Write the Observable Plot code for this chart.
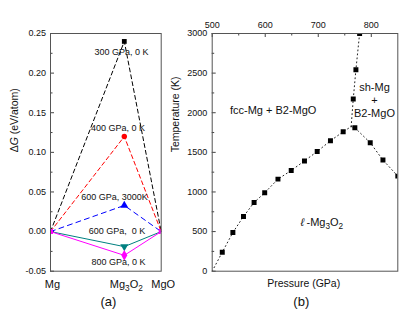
<!DOCTYPE html>
<html><head><meta charset="utf-8">
<script src="https://cdn.jsdelivr.net/npm/d3@7"></script>
<script src="https://cdn.jsdelivr.net/npm/@observablehq/plot@0.6"></script>
<style>
html,body{margin:0;padding:0;background:#fff;}
#wrap{position:relative;width:415px;height:319px;overflow:hidden;}
#wrap svg{position:absolute;top:0;}
</style></head><body><div id="wrap"></div>
<script>
// ---------------- panel (a) data ----------------
const compositions = ["Mg", "Mg_3O_2", "MgO"];
const compX = [0, 2/3, 1];
const seriesA = ["300 GPa, 0 K", "400 GPa, 0 K", "600 GPa, 3000K", "600 GPa,  0 K", "800 GPa, 0 K"];
const dG_300 = [0, 0.240, 0];
const dG_400 = [0, 0.120, 0];
const dG_600hot = [0, 0.033, 0];
const dG_600 = [0, -0.019, 0];
const dG_800 = [0, -0.030, 0];
const dGTicks = [-0.05, 0, 0.05, 0.10, 0.15, 0.20, 0.25];
const dGMinor = [-0.025, 0.025, 0.075, 0.125, 0.175, 0.225];

// ---------------- panel (b) data ----------------
const pressure    = [519, 539, 559, 579, 599, 624, 649, 674, 698, 723, 747, 769, 766, 771, 778, 798, 822, 850];
const temperature = [240, 489, 690, 867, 990, 1162, 1271, 1392, 1511, 1646, 1760, 1811, 2172, 2543, 3000, 1621, 1403, 1200];
const boundLeftP  = [500, 519, 539, 559, 579, 599, 624, 649, 674, 698, 723, 747, 762];
const boundLeftT  = [0, 240, 489, 690, 867, 990, 1162, 1271, 1392, 1511, 1646, 1760, 1825];
const boundUpP    = [762, 766, 771, 778];
const boundUpT    = [1825, 2172, 2543, 3000];
const boundRightP = [762, 769, 798, 822, 850];
const boundRightT = [1825, 1811, 1621, 1403, 1200];
const pTicks = [500, 600, 700, 800];
const pMinor = [550, 650, 750];
const tTicks = [0, 500, 1000, 1500, 2000, 2500, 3000];
const tMinor = [250, 750, 1250, 1750, 2250, 2750];

const FONT = "'Liberation Sans', Arial, sans-serif";
const INK = "#111";
const AX = "#444";

// ---- rich text: _x -> subscript, *..* -> italic
function richify(svg) {
  const NS = "http://www.w3.org/2000/svg";
  svg.querySelectorAll("text").forEach(t => {
    if (t.querySelector("tspan")) return;
    const s = t.textContent;
    if (!/[_*]/.test(s)) return;
    const fs = parseFloat(getComputedStyle(t).fontSize) || 10;
    const shift = 0.3 * fs;
    t.textContent = "";
    const re = /_(.)|\*([^*]+)\*|([^_*]+)/g;
    let m, lowered = false;
    while ((m = re.exec(s))) {
      const ts = document.createElementNS(NS, "tspan");
      if (m[1] !== undefined) {
        ts.textContent = m[1];
        ts.setAttribute("font-size", (0.75 * fs) + "px");
        if (!lowered) { ts.setAttribute("dy", shift); lowered = true; }
      } else {
        ts.textContent = m[2] !== undefined ? m[2] : m[3];
        if (m[2] !== undefined) ts.setAttribute("font-style", "italic");
        if (lowered) { ts.setAttribute("dy", -shift); lowered = false; }
      }
      t.appendChild(ts);
    }
  });
}

// ---------------- panel (a) ----------------
const valuesA = [dG_300, dG_400, dG_600hot, dG_600, dG_800];
const styleA = [
  {stroke: "#000000", dash: "4,3", symbol: "square", r: 2.7, rotate: 0},
  {stroke: "#ff0000", dash: "4,3", symbol: "circle", r: 2.7, rotate: 0},
  {stroke: "#0000ff", dash: "5,4", symbol: "triangle", r: 3, rotate: 0},
  {stroke: "#008080", dash: null, symbol: "triangle", r: 3, rotate: 180},
  {stroke: "#ff00ff", dash: null, symbol: "diamond", r: 3.2, rotate: 0}
];
const tableA = [];
seriesA.forEach((s, i) => compX.forEach((x, j) => tableA.push({series: s, k: i, x, y: valuesA[i][j]})));
const annA = [
  {t: seriesA[0], x: 0.641, y: 0.226},
  {t: seriesA[1], x: 0.610, y: 0.131},
  {t: seriesA[2], x: 0.578, y: 0.043},
  {t: seriesA[3], x: 0.601, y: 0.001},
  {t: seriesA[4], x: 0.614, y: -0.038}
];
const WA = 175, HA = 319, mlA = 50, mrA = 14.3, mtA = 33, mbA = 48.3;
const fwA = WA - mlA - mrA;

const marksA = [
  Plot.axisY(dGTicks, {tickSize: 0, tickPadding: 4.5, tickFormat: d => d.toFixed(2), fontSize: 9, fill: INK, label: null}),
  Plot.axisX(compX, {tickSize: 0, tickPadding: 9, tickFormat: d => compositions[compX.indexOf(d)], fontSize: 11, fill: INK, dx: 2, label: null}),
  Plot.ruleY(dGTicks, {y: d => d, insetRight: fwA - 4, stroke: AX}),
  Plot.ruleY(dGMinor, {y: d => d, insetRight: fwA - 2.5, stroke: AX})
];
styleA.forEach((st, i) => {
  const data = tableA.filter(d => d.k === i);
  marksA.push(Plot.line(data, {x: "x", y: "y", stroke: st.stroke, strokeWidth: 1, strokeDasharray: st.dash}));
});
styleA.forEach((st, i) => {
  const data = tableA.filter(d => d.k === i && d.x === compX[1]);
  marksA.push(Plot.dot(data, {x: "x", y: "y", symbol: st.symbol, r: st.r, fill: st.stroke, stroke: "none", rotate: st.rotate}));
});
marksA.push(Plot.dot(tableA.filter(d => d.k === 4 && d.x !== compX[1]), {x: "x", y: "y", symbol: "square", r: 2.8, fill: "#ff00ff", clip: true}));
marksA.push(Plot.text(annA, {x: "x", y: "y", text: "t", fontSize: 9, fill: INK}));
marksA.push(Plot.frame({stroke: "#555"}));
marksA.push(Plot.text(["Δ*G* (eV/atom)"], {frameAnchor: "left", rotate: -90, dx: -36, fontSize: 10.5, fill: INK}));
marksA.push(Plot.text(["(a)"], {frameAnchor: "bottom", dy: 34.3, dx: 2.5, fontSize: 13, fill: INK}));

const pa = Plot.plot({
  width: WA, height: HA,
  marginLeft: mlA, marginRight: mrA, marginTop: mtA, marginBottom: mbA,
  x: {domain: [0, 1], label: null},
  y: {domain: [-0.05, 0.25], label: null},
  style: {background: "transparent", fontFamily: FONT, fontSize: "9px", color: INK},
  marks: marksA
});

// ---------------- panel (b) ----------------
const ptsB = pressure.map((p, i) => ({p, T: temperature[i]}));
const mk = (P, T) => P.map((p, i) => ({p, T: T[i]}));
const WB = 255, HB = 319, mlB = 51.7, mrB = 17.7, mtB = 33, mbB = 48.3;
const fwB = WB - mlB - mrB, fhB = HB - mtB - mbB;
const dotted = {x: "p", y: "T", stroke: "#222", strokeWidth: 1, strokeDasharray: "1,3", clip: true};

const pb = Plot.plot({
  width: WB, height: HB,
  marginLeft: mlB, marginRight: mrB, marginTop: mtB, marginBottom: mbB,
  x: {domain: [500, 850], label: null},
  y: {domain: [0, 3000], label: null},
  style: {background: "transparent", fontFamily: FONT, fontSize: "9px", color: INK},
  marks: [
    Plot.axisY(tTicks, {tickSize: 0, tickPadding: 5, tickFormat: d => String(d), fontSize: 9, fill: INK, label: null}),
    Plot.axisX(pTicks, {anchor: "top", tickSize: 0, tickPadding: 6, tickFormat: d => String(d), fontSize: 9, fill: INK, label: null}),
    Plot.ruleY(tTicks, {y: d => d, insetRight: fwB - 4, stroke: AX}),
    Plot.ruleY(tMinor, {y: d => d, insetRight: fwB - 2.5, stroke: AX}),
    Plot.ruleX(pTicks, {x: d => d, insetBottom: fhB - 4, stroke: AX}),
    Plot.ruleX(pMinor, {x: d => d, insetBottom: fhB - 2.5, stroke: AX}),
    Plot.line(mk(boundLeftP, boundLeftT), dotted),
    Plot.line(mk(boundUpP, boundUpT), dotted),
    Plot.line(mk(boundRightP, boundRightT), dotted),
    Plot.dot(ptsB, {x: "p", y: "T", symbol: "square", r: 2.8, fill: "#000", clip: true}),
    Plot.frame({stroke: "#555"}),
    Plot.text(["fcc-Mg + B2-MgO"], {x: 615, y: 2029, fontSize: 11, fill: INK}),
    Plot.text(["sh-Mg\n+\nB2-MgO"], {x: 806, y: 2168, fontSize: 11, lineHeight: 1.18, fill: INK}),
    Plot.text(["*ℓ*\u2009-Mg_3O_2"], {x: 707, y: 619, fontSize: 11, fill: INK}),
    Plot.text(["Temperature (K)"], {frameAnchor: "left", rotate: -90, dx: -36.7, fontSize: 10.5, fill: INK}),
    Plot.text(["Pressure (GPa)"], {frameAnchor: "bottom", dy: 16, dx: -1.3, fontSize: 10.5, fill: INK}),
    Plot.text(["(b)"], {frameAnchor: "bottom", dy: 34.3, dx: -3.7, fontSize: 13, fill: INK})
  ]
});

const wrap = document.getElementById("wrap");
pa.style.left = "0px";
pb.style.left = "160px";
wrap.appendChild(pa);
wrap.appendChild(pb);
richify(pa);
richify(pb);
</script></body></html>
